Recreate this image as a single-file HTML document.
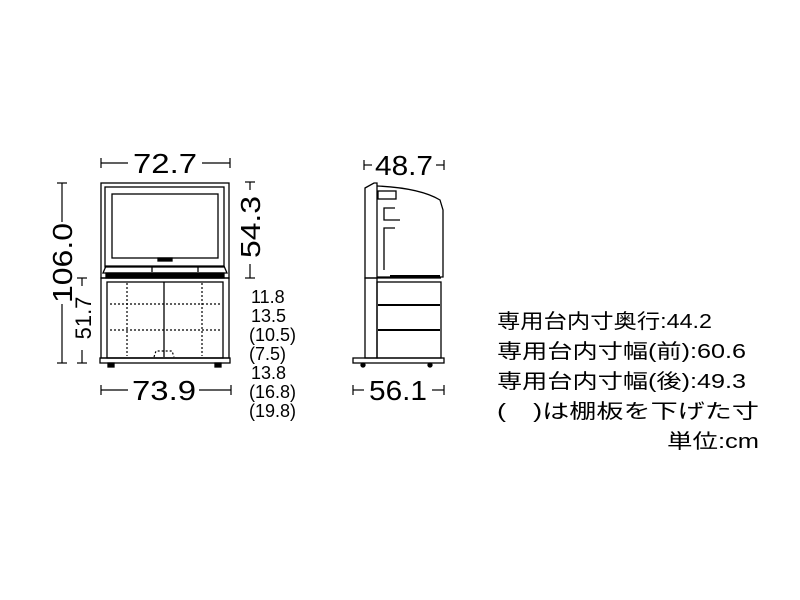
<!DOCTYPE html>
<html><head><meta charset="utf-8"><style>html,body{margin:0;padding:0;background:#fff}svg{display:block}</style></head><body>
<svg width="800" height="600" viewBox="0 0 800 600" xmlns="http://www.w3.org/2000/svg" font-family="Liberation Sans, Noto Sans CJK JP, sans-serif">
<g stroke="#000" fill="none" stroke-width="1.3">
<rect x="101" y="183" width="128" height="95"/>
<rect x="105" y="187" width="119" height="80"/>
<rect x="112" y="194" width="106" height="64"/>
<rect x="158" y="258" width="14" height="3" fill="#000"/>
<path d="M106 266 L224 266 L227 273 L103 273 Z"/>
<line x1="152" y1="266" x2="152" y2="272"/><line x1="198" y1="266" x2="198" y2="272"/>
<rect x="106" y="273" width="118" height="5" fill="#000"/>
<rect x="101" y="278" width="128" height="80"/>
<rect x="107" y="282" width="116" height="76"/>
<line x1="164" y1="282" x2="164" y2="357"/>
<g stroke-dasharray="2,2" stroke-width="1.2">
<line x1="127" y1="283" x2="127" y2="356"/><line x1="202" y1="283" x2="202" y2="356"/>
<line x1="110" y1="304" x2="220" y2="304"/><line x1="110" y1="330" x2="220" y2="330"/>
<path d="M154 357 L156 351 L172 351 L174 357"/>
</g>
<rect x="100" y="358" width="130" height="5"/>
<rect x="108" y="363" width="6" height="4" fill="#000"/><rect x="215" y="363" width="6" height="4" fill="#000"/>
<path d="M365 188 L374 183 L377 183 L377 278 L365 278 Z"/>
<path d="M377 186 Q420 188 440 200 L443 210 L443 277 L377 277"/>
<rect x="378" y="191" width="18" height="8"/>
<path d="M395 208 L384 208 L384 220 L400 220 M395 228 L384 228 L384 270"/>
<line x1="390" y1="276" x2="440" y2="276" stroke-width="2"/>
<rect x="365" y="278" width="12" height="80"/>
<rect x="377" y="282" width="64" height="76"/>
<line x1="377" y1="278" x2="441" y2="278"/>
<line x1="378" y1="305" x2="440" y2="305" stroke-width="2"/>
<line x1="378" y1="330" x2="440" y2="330" stroke-width="2"/>
<rect x="353" y="358" width="91" height="5"/>
<circle cx="363" cy="365" r="2" fill="#000"/><circle cx="430" cy="365" r="2" fill="#000"/>
<g stroke-width="1.2">
<line x1="101" y1="163" x2="128" y2="163"/><line x1="101" y1="158" x2="101" y2="168"/>
<line x1="202" y1="163" x2="230" y2="163"/><line x1="230" y1="158" x2="230" y2="168"/>
<line x1="101" y1="390" x2="128" y2="390"/><line x1="101" y1="385" x2="101" y2="395"/>
<line x1="199" y1="390" x2="231" y2="390"/><line x1="231" y1="385" x2="231" y2="395"/>
<line x1="62" y1="183" x2="62" y2="222"/><line x1="57" y1="183" x2="67" y2="183"/>
<line x1="62" y1="304" x2="62" y2="363"/><line x1="57" y1="363" x2="67" y2="363"/>
<line x1="82" y1="278" x2="82" y2="286"/><line x1="77" y1="278" x2="87" y2="278"/>
<line x1="82" y1="350" x2="82" y2="363"/><line x1="77" y1="363" x2="87" y2="363"/>
<line x1="250" y1="182" x2="250" y2="190"/><line x1="245" y1="182" x2="255" y2="182"/>
<line x1="250" y1="264" x2="250" y2="278"/><line x1="245" y1="278" x2="255" y2="278"/>
<line x1="364" y1="165" x2="372" y2="165"/><line x1="364" y1="160" x2="364" y2="170"/>
<line x1="436" y1="165" x2="444" y2="165"/><line x1="444" y1="160" x2="444" y2="170"/>
<line x1="353" y1="390" x2="364" y2="390"/><line x1="353" y1="385" x2="353" y2="395"/>
<line x1="432" y1="390" x2="444" y2="390"/><line x1="444" y1="385" x2="444" y2="395"/>
</g>
</g>
<g fill="#000" font-size="28">
<text x="165" y="173" text-anchor="middle" textLength="64" lengthAdjust="spacingAndGlyphs">72.7</text>
<text x="164" y="400" text-anchor="middle" textLength="64" lengthAdjust="spacingAndGlyphs">73.9</text>
<text x="404" y="175" text-anchor="middle" textLength="58" lengthAdjust="spacingAndGlyphs">48.7</text>
<text x="398" y="400" text-anchor="middle" textLength="58" lengthAdjust="spacingAndGlyphs">56.1</text>
<text transform="translate(72,263) rotate(-90)" text-anchor="middle" textLength="80" lengthAdjust="spacingAndGlyphs">106.0</text>
<text transform="translate(260,227) rotate(-90)" text-anchor="middle" textLength="62" lengthAdjust="spacingAndGlyphs">54.3</text>
<text transform="translate(91,318) rotate(-90)" text-anchor="middle" font-size="22">51.7</text>
</g>
<g fill="#000" font-size="18">
<text x="251" y="303">11.8</text>
<text x="251" y="322">13.5</text>
<text x="249" y="341">(10.5)</text>
<text x="249" y="360">(7.5)</text>
<text x="251" y="379">13.8</text>
<text x="249" y="398">(16.8)</text>
<text x="249" y="417">(19.8)</text>
</g>
<g fill="#000" font-size="20">
<text x="497" y="328" textLength="215" lengthAdjust="spacingAndGlyphs">専用台内寸奥行:44.2</text>
<text x="497" y="358" textLength="249" lengthAdjust="spacingAndGlyphs">専用台内寸幅(前):60.6</text>
<text x="497" y="388" textLength="249" lengthAdjust="spacingAndGlyphs">専用台内寸幅(後):49.3</text>
<text x="497" y="418" textLength="262" lengthAdjust="spacingAndGlyphs">(　)は棚板を下げた寸</text>
<text x="667" y="448" textLength="92" lengthAdjust="spacingAndGlyphs">単位:cm</text>
</g>
</svg>
</body></html>
